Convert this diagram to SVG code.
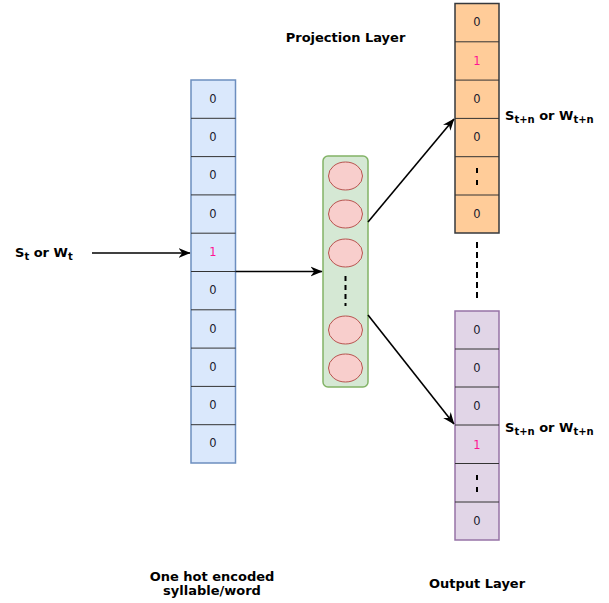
<svg xmlns="http://www.w3.org/2000/svg" width="609" height="603" viewBox="0 0 609 603">
<defs>
<style>
.cell{font-family:"DejaVu Sans",Arial,sans-serif;font-size:11.5px;fill:#1a1a2e;text-anchor:middle}
.one{fill:#ff1493}
.lbl{font-family:"DejaVu Sans",Arial,sans-serif;font-size:13px;font-weight:bold;fill:#000}
.sub{font-size:10px}
.sep{stroke:#333;stroke-width:1}
.conn{stroke:#000;stroke-width:1.6;fill:none}
.node{fill:#f8cecc;stroke:#b85450;stroke-width:1}
.dots{stroke:#000;stroke-width:2;stroke-dasharray:5 4}
</style>
<marker id="ah" viewBox="0 0 10 10" refX="9.5" refY="5" markerWidth="12" markerHeight="12" orient="auto" markerUnits="userSpaceOnUse">
<path d="M0,1 L10,5 L0,9 L3,5 Z" fill="#000"/>
</marker>
</defs>
<rect width="609" height="603" fill="#fff"/>

<g id="input-vector">
<rect x="191" y="80" width="44.5" height="383" fill="#dae8fc" stroke="#6c8ebf" stroke-width="1.5"/>
<g class="sep">
<line x1="191" y1="118.3" x2="235.5" y2="118.3"/>
<line x1="191" y1="156.6" x2="235.5" y2="156.6"/>
<line x1="191" y1="194.9" x2="235.5" y2="194.9"/>
<line x1="191" y1="233.2" x2="235.5" y2="233.2"/>
<line x1="191" y1="271.5" x2="235.5" y2="271.5"/>
<line x1="191" y1="309.8" x2="235.5" y2="309.8"/>
<line x1="191" y1="348.1" x2="235.5" y2="348.1"/>
<line x1="191" y1="386.4" x2="235.5" y2="386.4"/>
<line x1="191" y1="424.7" x2="235.5" y2="424.7"/>
</g>
<text class="cell" x="213" y="103">0</text>
<text class="cell" x="213" y="141">0</text>
<text class="cell" x="213" y="179">0</text>
<text class="cell" x="213" y="218">0</text>
<text class="cell one" x="213" y="256">1</text>
<text class="cell" x="213" y="294">0</text>
<text class="cell" x="213" y="333">0</text>
<text class="cell" x="213" y="371">0</text>
<text class="cell" x="213" y="409">0</text>
<text class="cell" x="213" y="447">0</text>
</g>

<g id="projection-layer">
<rect x="323" y="156" width="45" height="231" rx="5" fill="#d5e8d4" stroke="#82b366" stroke-width="1.5"/>
<ellipse class="node" cx="345.5" cy="176" rx="17" ry="14"/>
<ellipse class="node" cx="345.5" cy="214" rx="17" ry="14"/>
<ellipse class="node" cx="345.5" cy="253" rx="17" ry="14"/>
<line class="dots" x1="345.5" y1="276" x2="345.5" y2="306"/>
<ellipse class="node" cx="345.5" cy="330" rx="17" ry="14"/>
<ellipse class="node" cx="345.5" cy="368" rx="17" ry="14"/>
</g>

<g id="output-top">
<rect x="455" y="3.5" width="44" height="229.5" fill="#ffcc99" stroke="#36393d" stroke-width="1.5"/>
<g class="sep">
<line x1="455" y1="41.8" x2="499" y2="41.8"/>
<line x1="455" y1="80.1" x2="499" y2="80.1"/>
<line x1="455" y1="118.4" x2="499" y2="118.4"/>
<line x1="455" y1="156.7" x2="499" y2="156.7"/>
<line x1="455" y1="195" x2="499" y2="195"/>
</g>
<text class="cell" x="477" y="26">0</text>
<text class="cell one" x="477" y="65">1</text>
<text class="cell" x="477" y="103">0</text>
<text class="cell" x="477" y="141">0</text>
<line x1="477" y1="168" x2="477" y2="186" stroke="#000" stroke-width="2" stroke-dasharray="5 7"/>
<text class="cell" x="477" y="218">0</text>
</g>

<g id="output-bottom">
<rect x="455" y="311" width="44" height="229" fill="#e1d5e7" stroke="#9673a6" stroke-width="1.5"/>
<g class="sep">
<line x1="455" y1="349" x2="499" y2="349"/>
<line x1="455" y1="387" x2="499" y2="387"/>
<line x1="455" y1="425" x2="499" y2="425"/>
<line x1="455" y1="463.5" x2="499" y2="463.5"/>
<line x1="455" y1="502" x2="499" y2="502"/>
</g>
<text class="cell" x="477" y="334">0</text>
<text class="cell" x="477" y="372">0</text>
<text class="cell" x="477" y="410">0</text>
<text class="cell one" x="477" y="449">1</text>
<line x1="477" y1="475" x2="477" y2="493" stroke="#000" stroke-width="2" stroke-dasharray="5 7"/>
<text class="cell" x="477" y="525">0</text>
</g>

<g id="connectors">
<line class="conn" x1="92" y1="253" x2="190" y2="253" marker-end="url(#ah)"/>
<line class="conn" x1="235.5" y1="271.5" x2="322" y2="271.5" marker-end="url(#ah)"/>
<line class="conn" x1="368" y1="222" x2="454" y2="119" marker-end="url(#ah)"/>
<line class="conn" x1="368" y1="315" x2="454" y2="424" marker-end="url(#ah)"/>
<line x1="477" y1="242" x2="477" y2="300" stroke="#000" stroke-width="2" stroke-dasharray="6 4"/>
</g>

<g id="labels">
<text class="lbl" x="15" y="257">S<tspan class="sub" dy="3">t</tspan><tspan dy="-3"> or W</tspan><tspan class="sub" dy="3">t</tspan></text>
<text class="lbl" x="505" y="120">S<tspan class="sub" dy="3">t+n</tspan><tspan dy="-3"> or W</tspan><tspan class="sub" dy="3">t+n</tspan></text>
<text class="lbl" x="505" y="432">S<tspan class="sub" dy="3">t+n</tspan><tspan dy="-3"> or W</tspan><tspan class="sub" dy="3">t+n</tspan></text>
<text class="lbl" x="345.5" y="42" text-anchor="middle">Projection Layer</text>
<text class="lbl" x="212" y="581" text-anchor="middle">One hot encoded</text>
<text class="lbl" x="212" y="595" text-anchor="middle">syllable/word</text>
<text class="lbl" x="477" y="588" text-anchor="middle">Output Layer</text>
</g>
</svg>
